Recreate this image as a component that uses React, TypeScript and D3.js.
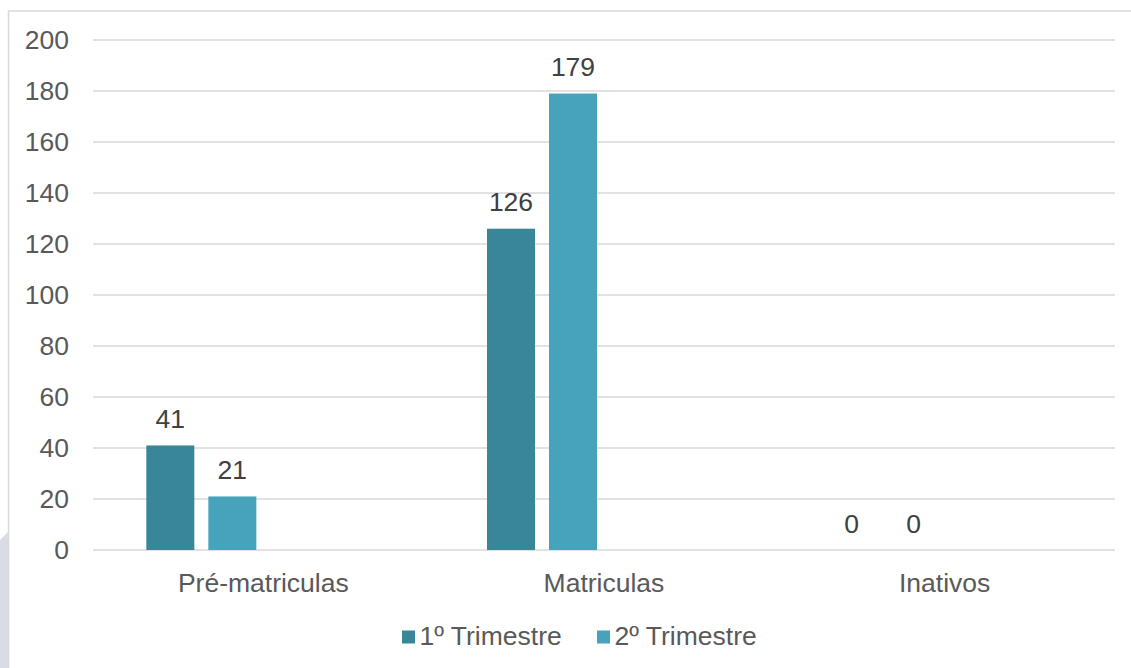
import { useEffect, useRef } from 'react';
import * as d3 from 'd3';

const categories = ['Pré-matriculas', 'Matriculas', 'Inativos'];
// the source chart reserves four bar slots per category; only two carry data
const slots = ['s1', 's2', 's3', 's4'];
const seriesNames = ['1º Trimestre', '2º Trimestre'];
const trimestre1 = [41, 126, 0];
const trimestre2 = [21, 179, 0];
const yTicks = [0, 20, 40, 60, 80, 100, 120, 140, 160, 180, 200];
const colors = ['#3A8699', '#46A3BB'];

export default function App() {
  const svgRef = useRef<SVGSVGElement>(null);

  useEffect(() => {
    if (!svgRef.current) return;
    const svg = d3.select(svgRef.current);
    svg.selectAll('*').remove();

    const W = 1131;
    const H = 668;
    const font = '"Liberation Sans", Arial, sans-serif';
    const fs = 26.5;

    // left decoration strip behind the frame
    svg.append('path')
      .attr('d', `M0,540 L8,532 L8,${H} L0,${H} Z`)
      .attr('fill', '#D8DCE7');

    // frame
    svg.append('rect')
      .attr('x', 8.5)
      .attr('y', 11)
      .attr('width', W + 20)
      .attr('height', H + 20)
      .attr('fill', '#fff')
      .attr('stroke', '#D9D9D9')
      .attr('stroke-width', 1.5);

    const left = 93;
    const right = 1115;
    const top = 40;
    const bottom = 550;

    const y = d3.scaleLinear().domain([0, 200]).range([bottom, top]);
    const x0 = d3.scaleBand().domain(categories).range([left, right]);
    const x1 = d3.scaleBand()
      .domain(slots)
      .range([0, x0.bandwidth()])
      .paddingInner(14 / 62)
      .paddingOuter(0.86);

    // gridlines
    svg.append('g')
      .selectAll('line')
      .data(yTicks)
      .enter()
      .append('line')
      .attr('x1', left)
      .attr('x2', right)
      .attr('y1', d => y(d))
      .attr('y2', d => y(d))
      .attr('stroke', '#D9D9D9')
      .attr('stroke-width', 1.3);

    // y tick labels
    svg.append('g')
      .selectAll('text')
      .data(yTicks)
      .enter()
      .append('text')
      .attr('x', 69)
      .attr('y', d => y(d))
      .attr('dy', '0.35em')
      .attr('text-anchor', 'end')
      .attr('font-family', font)
      .attr('font-size', fs)
      .attr('fill', '#595959')
      .text(d => d);

    const series = [trimestre1, trimestre2];
    series.forEach((values, si) => {
      const g = svg.append('g');
      const rows = categories.map((c, i) => ({ c, v: values[i] }));
      g.selectAll('rect')
        .data(rows)
        .enter()
        .append('rect')
        .attr('x', d => x0(d.c)! + x1(slots[si])!)
        .attr('y', d => y(d.v))
        .attr('width', x1.bandwidth())
        .attr('height', d => bottom - y(d.v))
        .attr('fill', colors[si]);

      g.selectAll('text')
        .data(rows)
        .enter()
        .append('text')
        .attr('x', d => x0(d.c)! + x1(slots[si])! + x1.bandwidth() / 2)
        .attr('y', d => y(d.v) - 17.5)
        .attr('text-anchor', 'middle')
        .attr('font-family', font)
        .attr('font-size', fs)
        .attr('fill', '#404040')
        .text(d => d.v);
    });

    // category labels
    svg.append('g')
      .selectAll('text')
      .data(categories)
      .enter()
      .append('text')
      .attr('x', d => x0(d)! + x0.bandwidth() / 2)
      .attr('y', 592)
      .attr('text-anchor', 'middle')
      .attr('font-family', font)
      .attr('font-size', fs)
      .attr('fill', '#595959')
      .text(d => d);

    // legend
    const legendX = [402, 597];
    const legend = svg.append('g');
    seriesNames.forEach((name, i) => {
      legend.append('rect')
        .attr('x', legendX[i])
        .attr('y', 630.5)
        .attr('width', 13)
        .attr('height', 13)
        .attr('fill', colors[i]);
      legend.append('text')
        .attr('x', legendX[i] + 17.5)
        .attr('y', 645)
        .attr('font-family', font)
        .attr('font-size', fs)
        .attr('fill', '#595959')
        .text(name);
    });
  }, []);

  return (
    <div style={{ position: 'absolute', left: 0, top: 0, width: 1131, height: 668, overflow: 'hidden', background: '#fff' }}>
      <svg ref={svgRef} width={1131} height={668} style={{ display: 'block' }} />
    </div>
  );
}
